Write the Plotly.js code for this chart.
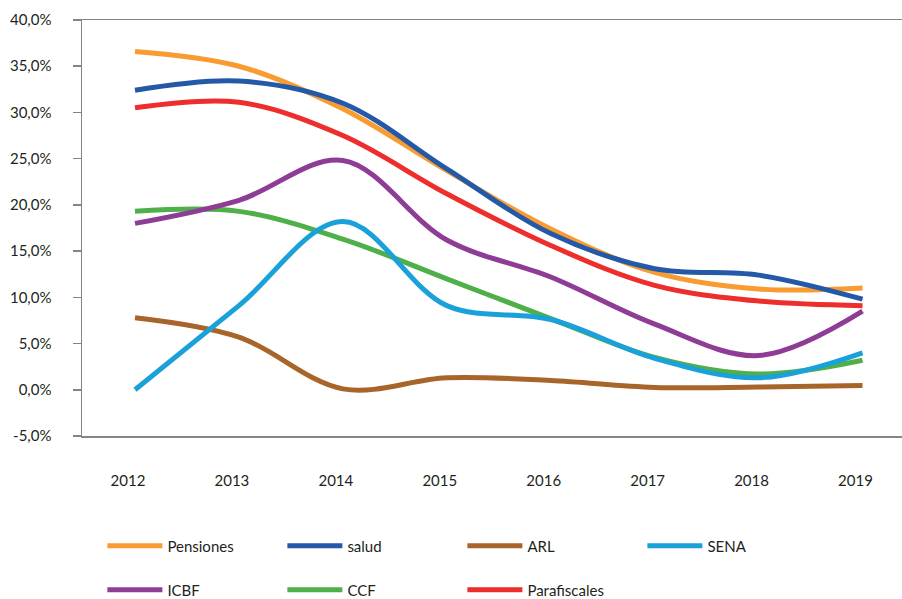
<!DOCTYPE html>
<html>
<head>
<meta charset="utf-8">
<script src="https://cdn.plot.ly/plotly-3.0.1.min.js"></script>
<style>html,body{margin:0;padding:0;background:#fff}#chart{width:902px;height:599px}</style>
</head>
<body>
<div id="chart"></div>
<script>
const years = ['2012','2013','2014','2015','2016','2017','2018','2019'];
const pensiones    = [36.6, 35.0, 30.4, 23.7, 17.4, 12.7, 10.9, 11.0];
const salud        = [32.4, 33.4, 31.0, 23.9, 16.9, 13.1, 12.4, 9.8];
const arl          = [7.8, 5.7, 0.1, 1.3, 1.0, 0.25, 0.3, 0.45];
const sena         = [0.0, 9.1, 18.2, 9.1, 7.6, 3.4, 1.3, 4.0];
const icbf         = [18.0, 20.5, 24.8, 16.2, 12.2, 7.1, 3.7, 8.5];
const ccf          = [19.3, 19.3, 16.3, 12.0, 7.7, 3.5, 1.7, 3.2];
const parafiscales = [30.5, 31.1, 27.5, 21.2, 15.6, 11.3, 9.6, 9.1];
const yTickVals = [-5, 0, 5, 10, 15, 20, 25, 30, 35, 40];
const yTickText = ['-5,0%','0,0%','5,0%','10,0%','15,0%','20,0%','25,0%','30,0%','35,0%','40,0%'];

const series = [
  {name:'Pensiones', y:pensiones, color:'#F89C31', legend:'legend'},
  {name:'salud', y:salud, color:'#2459A8', legend:'legend'},
  {name:'ARL', y:arl, color:'#A8652A', legend:'legend'},
  {name:'SENA', y:sena, color:'#1BA1D9', legend:'legend'},
  {name:'ICBF', y:icbf, color:'#8E3C96', legend:'legend2'},
  {name:'CCF', y:ccf, color:'#4FAF48', legend:'legend2'},
  {name:'Parafiscales', y:parafiscales, color:'#EE2D2D', legend:'legend2'}
];
const drawOrder = ['ARL','CCF','SENA','ICBF','Parafiscales','Pensiones','salud'];
const traces = series.map(s => ({
  type:'scatter', mode:'lines', name:s.name, x:years, y:s.y,
  line:{color:s.color, width:5, shape:'spline', smoothing:1},
  legend:s.legend, legendrank: series.indexOf(s)+1
}));
traces.sort((a,b)=>drawOrder.indexOf(a.name)-drawOrder.indexOf(b.name));

const font = {family:'Lato, "Open Sans", sans-serif', size:15, color:'#231f20'};
const legendBase = {orientation:'h', xanchor:'left', yanchor:'middle', xref:'container', yref:'container',
  x:0.1135, entrywidth:110, entrywidthmode:'pixels', itemwidth:55, font:font,
  bgcolor:'rgba(0,0,0,0)', traceorder:'normal'};
const layout = {
  width:902, height:599,
  margin:{l:82, r:0, t:20, b:163},
  paper_bgcolor:'#fff', plot_bgcolor:'#fff',
  font:font,
  showlegend:true,
  xaxis:{type:'category', range:[-0.51, 7.38], showgrid:false, zeroline:false,
    showline:true, mirror:true, linecolor:'#858585', linewidth:1.5,
    ticks:'', ticklabelstandoff:30, ticklabelshift:-7, tickfont:font, fixedrange:true},
  yaxis:{range:[-5,40], tickvals:yTickVals, ticktext:yTickText, showgrid:false, zeroline:false,
    showline:true, linecolor:'#858585', linewidth:1.5, ticks:'outside', ticklen:8,
    tickcolor:'#858585', tickwidth:1.5, ticklabelstandoff:18, tickfont:font, fixedrange:true},
  legend: Object.assign({}, legendBase, {y:1-546/599}),
  legend2: Object.assign({}, legendBase, {y:1-590/599})
};
Plotly.newPlot('chart', traces, layout, {displayModeBar:false, staticPlot:true});
</script>
</body>
</html>
